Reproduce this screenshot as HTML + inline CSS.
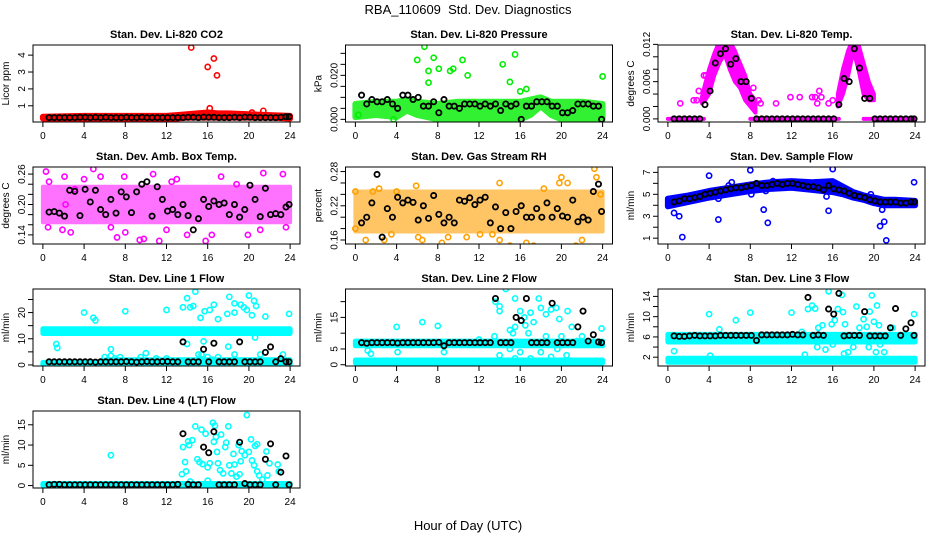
<!DOCTYPE html>
<html><head><meta charset="utf-8">
<style>
html,body{margin:0;padding:0;background:#fff;}
svg{display:block;font-family:"Liberation Sans",Arial,sans-serif;}
</style></head>
<body>
<svg id="chart" width="936" height="540" viewBox="0 0 936 540">
<text x="468" y="14" text-anchor="middle" font-size="13">RBA_110609&#160; Std. Dev. Diagnostics</text>
<text x="468" y="530" text-anchor="middle" font-size="13">Hour of Day (UTC)</text>
</svg>
<script>
const blackHours=[0.6,1.1,1.6,2.1,2.6,3.1,3.6,4.1,4.6,5.1,5.6,6.1,6.6,7.1,7.6,8.1,8.6,9.1,9.6,10.1,10.6,11.1,11.6,12.1,12.6,13.1,13.6,14.1,14.6,15.1,15.6,16.1,16.6,17.1,17.6,18.1,18.6,19.1,19.6,20.1,20.6,21.1,21.6,22.1,22.6,23.1,23.6,23.9];
const xTicks=[0,4,8,12,16,20,24];

// CO2
const co2BandH=[0,4,8,12,13,14,15,16,17,18,20,22,24];
const co2BandLo=[0.25,0.25,0.25,0.25,0.25,0.3,0.3,0.3,0.3,0.3,0.3,0.3,0.25];
const co2BandHi=[0.35,0.4,0.4,0.4,0.45,0.5,0.55,0.6,0.55,0.55,0.5,0.45,0.4];
const co2PtsH=[14.4,16.0,16.6,16.9,16.2,21.4,20.3];
const co2PtsV=[4.45,3.3,3.8,2.8,0.85,0.7,0.6];
const co2Black=[0.3,0.3,0.3,0.3,0.3,0.3,0.32,0.32,0.3,0.32,0.3,0.32,0.3,0.3,0.3,0.32,0.3,0.3,0.32,0.3,0.3,0.3,0.3,0.3,0.3,0.3,0.3,0.32,0.32,0.3,0.33,0.32,0.32,0.3,0.3,0.3,0.32,0.3,0.33,0.32,0.3,0.3,0.3,0.3,0.3,0.32,0.35,0.35];

// Pressure
const prBandH=[0,2,4,5,6,8,10,12,14,16,17,18,19,20,22,24];
const prBandLo=[0.001,0.002,0.001,0.004,0.002,0,0,0,0,0,0.002,0.006,0.002,0,0,0];
const prBandHi=[0.007,0.008,0.008,0.009,0.008,0.007,0.008,0.008,0.008,0.008,0.009,0.010,0.008,0.008,0.008,0.007];
const prPtsH=[6.7,6.0,7.1,7.6,7.1,8.1,9.2,9.5,10.4,10.9,14.3,15.5,15.0,16.0,16.6,24.0,0.3,3.7];
const prPtsV=[0.033,0.027,0.022,0.028,0.0167,0.023,0.022,0.023,0.027,0.020,0.025,0.0295,0.017,0.0127,0.0138,0.0195,0.002,0.0];
const prBlack=[0.011,0.007,0.009,0.008,0.008,0.009,0.007,0.005,0.011,0.011,0.009,0.010,0.006,0.006,0.008,0.003,0.009,0.006,0.006,0.005,0.007,0.007,0.007,0.006,0.007,0.006,0.007,0.004,0.007,0.006,0.007,0.000,0.006,0.006,0.008,0.008,0.008,0.006,0.006,0.003,0.003,0.004,0.007,0.007,0.007,0.006,0.006,0.000];

// Li-820 temp
const tpBandH=[0,3.5,null,3.3,3.6,4,4.5,5,5.5,6,6.5,7,7.5,8,8.5,null,8,16.6,null,16.5,17,17.5,18,18.5,19,19.5,20,null,19,24];
const tpBandLo=[0,0,null,0.0025,0.003,0.004,0.007,0.009,0.0105,0.008,0.006,0.005,0.003,0.002,0.001,null,0,0,null,0.002,0.004,0.007,0.011,0.008,0.004,0.003,0.003,null,0,0];
const tpBandHi=[0,0,null,0.0035,0.0055,0.008,0.0105,0.0125,0.013,0.0125,0.011,0.009,0.007,0.004,0.003,null,0,0,null,0.004,0.008,0.011,0.013,0.012,0.009,0.006,0.004,null,0,0];
const tpPtsH=[1.2,2.5,2.8,3.0,9.0,10.5,11.9,12.8,14.0,14.3,14.5,14.7,14.9,15.6,16.0,3.5,3.7,8.3,8.8];
const tpPtsV=[0.0025,0.003,0.003,0.0045,0.0025,0.0025,0.0035,0.0035,0.0035,0.0035,0.0025,0.0045,0.0035,0.0025,0.003,0.007,0.007,0.005,0.003];
const tpBlack=[0,0,0,0,0,0,0.0023,0.0045,0.009,0.0105,0.0113,0.0088,0.0097,0.006,0.006,0.0033,0,0,0,0,0,0,0,0,0,0,0,0,0,0,0,0,0.0023,0.0065,0.006,0.0113,0.0082,0.0033,0.0033,0,0,0,0,0,0,0,0,0];

// Amb box temp
const abBandH=[0,24];
const abBandLo=[0.165,0.165];
const abBandHi=[0.235,0.235];
const abPtsH=[0.3,0.6,0.5,1.9,2.1,2.7,3.1,4,4.9,5.6,7.2,7.9,8,9.4,9.8,10.7,11.3,12,14,15.8,16.4,17.3,18.8,21.4,21.1,23.3,23.6,13,12.5,6.6,2.2,19.9];
const abPtsV=[0.265,0.245,0.155,0.15,0.255,0.145,0.23,0.25,0.27,0.255,0.135,0.255,0.145,0.13,0.132,0.26,0.128,0.15,0.14,0.128,0.14,0.255,0.24,0.262,0.15,0.26,0.155,0.25,0.245,0.155,0.2,0.14];
const abBlack=[0.185,0.186,0.183,0.177,0.228,0.226,0.178,0.23,0.205,0.228,0.19,0.18,0.21,0.183,0.225,0.215,0.184,0.225,0.24,0.245,0.177,0.235,0.21,0.187,0.19,0.18,0.2,0.178,0.15,0.172,0.21,0.196,0.207,0.2,0.203,0.18,0.2,0.175,0.19,0.238,0.21,0.176,0.232,0.18,0.182,0.18,0.195,0.2];

// RH
const rhBandH=[0,24];
const rhBandLo=[0.175,0.175];
const rhBandHi=[0.245,0.245];
const rhPtsH=[0,0,1,1.7,2.3,2.8,4,3.5,5.4,5.9,6.1,6.5,8.4,9,10.8,12.1,13.3,14,15,16.6,17.3,18.3,19.8,21.4,22,22.8,23.2,23.4,23.8,20,20.6,14];
const rhPtsV=[0.18,0.245,0.16,0.245,0.25,0.16,0.245,0.17,0.14,0.255,0.165,0.16,0.155,0.165,0.165,0.17,0.17,0.16,0.15,0.155,0.15,0.25,0.26,0.15,0.16,0.145,0.285,0.27,0.24,0.27,0.26,0.26];
const rhBlack=[0.19,0.2,0.225,0.275,0.165,0.215,0.2,0.235,0.225,0.23,0.226,0.195,0.22,0.198,0.238,0.205,0.19,0.2,0.19,0.23,0.228,0.234,0.222,0.23,0.235,0.19,0.218,0.18,0.208,0.18,0.21,0.22,0.2,0.2,0.215,0.2,0.225,0.2,0.215,0.202,0.2,0.23,0.192,0.2,0.195,0.245,0.258,0.21];

// Sample flow
const sfBandH=[0,2,4,6,8,10,12,14,16,17,18,19,20,21,22,24];
const sfBandLo=[3.9,4.3,4.7,5.0,5.3,5.5,5.6,5.4,5.2,5.0,4.7,4.5,4.2,4.0,4.0,4.0];
const sfBandHi=[4.6,4.9,5.3,5.6,5.9,6.1,6.2,6.1,6.2,5.7,5.2,4.9,4.7,4.5,4.5,4.4];
const sfPtsH=[0.6,1.1,1.4,4,4.9,8,8.1,9.3,9.7,15.6,15.4,16,20.6,20.8,21,21.2,23.9,4.9,6.2,10.2,14.4,5.9,9.5,7.7,19.7];
const sfPtsV=[3.3,3.0,1.1,6.7,2.7,7.2,5.0,3.6,2.4,3.5,4.8,7.3,2.1,3.6,2.5,0.8,6.1,4.6,6.1,6.2,6.1,5.8,5.3,5.3,5.0];
const sfBlack=[4.3,4.4,4.6,4.6,4.7,4.8,5.0,5.1,5.2,5.3,5.4,5.5,5.6,5.6,5.7,5.8,6.0,5.8,5.8,5.9,6.0,5.9,6.0,6.0,5.9,5.8,5.7,5.7,5.6,5.4,5.8,5.5,5.4,5.3,5.1,4.9,4.8,4.7,4.5,4.4,4.3,4.3,4.3,4.3,4.2,4.2,4.3,4.3];

// Line 1
const l1BandH=[0,24,null,0,6,6.1,24];
const l1BandLo=[12,12,null,0,0,0,0];
const l1BandHi=[13.8,13.8,null,1,1,2,2];
const l1PtsH=[4,4.9,5.1,8,12,13.6,14,14.3,14.6,14.8,15.3,15.7,16.2,16.6,17,17.9,18.1,18.6,18.6,19.2,19.5,19.8,20,20.3,20.5,20.7,21.6,23.9,1.3,1.4,6.6,14,16.6,18,18.6,20.6,21.1,23.3,15.6,15.1,15.4,10,9.5,6,6.6,7,7.5,11,12,16,16.5,17];
const l1PtsV=[20,18,17,20.5,21,22,25.5,22,22.5,28,18,20.5,21,23,17.5,19.5,26,20,23.5,23,22,21,26.5,19,24.5,22.5,18.5,19.5,8,6.5,6,8,8.3,7,4,10.5,4,4,9,4,4,4.5,3,3,3.5,2.5,3,2.5,2.5,3,2,3];
const l1Black=[1.2,1.2,1.2,1.2,1.2,1.2,1.2,1.2,1.2,1.1,1.2,1.2,1.2,1.2,1.2,1.3,1.2,1.1,1.2,1.3,1.2,1.2,1.3,1.3,1.2,1.2,8.8,1.2,1.2,1.2,6.0,1.2,8.3,1.2,1.2,1.2,1.2,8.8,1.2,1.2,1.2,1.2,4.8,6.9,1.2,2.4,1.2,1.2];

// Line 2
const l2BandH=[0,24,null,0,24];
const l2BandLo=[6,6,null,0.5,0.5];
const l2BandHi=[7.5,7.5,null,1.5,1.5];
const l2PtsH=[4,6.5,8,1.2,1.5,4.1,8.6,12,13.6,14,14,14.6,15.5,15,15.3,16,16.4,16.5,17,17.3,17.8,18,18.5,19,19.5,19.8,20,20.6,21.5,22,23,23.9,14,15,15.5,16,17,18,19,20.5,13.5,16.8,18.5,21,19.6,15.5,17.5];
const l2PtsV=[12,13.5,12.3,4.5,3.5,4,4,8,20,18.5,17,24,21,11,10,17,15,12.5,16.5,13.5,21,18,16,17.5,18,14.5,9,17,7.5,9,7,11.5,3,5,2,4,2,4,2.5,3,9,10,9,12,5,12,6.5];
const l2Black=[7,6.8,7,7,7,7,7,6.9,7,7,7,7,7,7,7,7.1,6,7,7,7,7,7,7,7,7,7,21,7,7,7,15,14,21,7,7,7,7,19.5,7,7,7,7,12,17,7.5,9.5,7.2,7];

// Line 3
const l3BandH=[0,24,null,0,24];
const l3BandLo=[5,5,null,1,1];
const l3BandHi=[6.5,6.5,null,1.8,1.8];
const l3PtsH=[0.6,4,4.1,5,6.6,8,12,13,13.3,13.6,14,14.3,14.6,15,15.3,15.6,15.9,16.2,16.5,16.9,17,17.2,17.5,18,18.3,18.6,19,19.3,19.6,19.8,20,20.3,20.6,20.5,21,21.8,22.5,23.9,14.5,16,17.1,19.5,20.2];
const l3PtsV=[3.2,10.5,2.3,7.5,9.3,10.8,10.8,7,2.5,11.5,12.2,11.6,7.8,8.3,3.5,15,8.5,9.3,11.5,14.3,10.9,8.5,3,4,12,7.8,9.5,8,11,14.2,9,12.2,4.5,8.3,3,7.8,1.6,10.5,4,4.5,2.7,4,3];
const l3Black=[6.2,6.1,6.1,6.2,6.3,6.2,6.2,6.2,6.2,6.3,6.3,6.3,6.3,6.3,6.3,6.3,5.3,6.4,6.4,6.4,6.4,6.4,6.4,6.5,6.4,6.4,13.8,6.3,6.4,6.3,11.5,10.5,14.6,6.2,6.3,6.3,6.3,11,6.2,6.2,6.2,6.2,7.8,11.6,6.3,7.6,8.8,6.3];

// Line 4
const l4BandH=[0,24];
const l4BandLo=[0,0];
const l4BandHi=[0.5,0.5];
const l4PtsH=[6.6,13.5,13.6,13.8,13.9,14.1,14.2,14.5,14.8,15,15.2,15.4,15.5,15.8,16,16.2,16.5,16.6,16.7,16.8,16.9,17,17.2,17.5,17.7,17.8,18,18.1,18.3,18.5,18.6,18.8,19,19.2,19.3,19.6,19.8,20,20.2,20.3,20.5,20.6,20.8,21,21.3,21.7,21.8,22,22.8,22.9,20.8,17.3,19.1,14.3,16];
const l4PtsV=[7.5,2.8,9.5,5.8,3.5,10.9,10,11.2,14.6,6.5,5.8,13.8,5.3,12.8,4.5,5.5,15.5,10.8,14.8,12,8.3,5.5,3.8,3,9.5,10.6,14.6,5,3,7.8,5.2,2.2,10,6,8.5,7.5,17.4,8.3,11.4,6.2,5,9.8,3.5,2.5,1.5,8.4,2.5,5.5,5.2,3.5,10.2,12.6,2.8,1,1.2];
const l4Black=[0.2,0.3,0.3,0.2,0.2,0.2,0.2,0.2,0.2,0.2,0.2,0.2,0.2,0.2,0.2,0.2,0.2,0.2,0.2,0.2,0.2,0.2,0.2,0.2,0.2,0.3,12.8,0.3,0.2,0.2,9.5,8.1,13.3,0.2,0.2,0.2,0.2,10.7,0.5,0.2,0.2,0.2,6.5,10.3,0.2,3.3,7.3,0.2];

const NS='http://www.w3.org/2000/svg';
const svg=document.getElementById('chart');
function mk(tag,attrs,parent){const e=document.createElementNS(NS,tag);for(const k in attrs)e.setAttribute(k,attrs[k]);(parent||svg).appendChild(e);return e;}

const panels=[
 {key:'co2',title:'Stan. Dev. Li-820 CO2',ylab:'Licor ppm',col:0,row:0,ymin:0.04,ymax:4.6,ticks:[1,2,3,4],labels:['1','2','3','4'],color:'#ff0000',op:1,sw:6,bh:co2BandH,blo:co2BandLo,bhi:co2BandHi,ph:co2PtsH,pv:co2PtsV,bk:co2Black},
 {key:'pressure',title:'Stan. Dev. Li-820 Pressure',ylab:'kPa',col:1,row:0,ymin:-0.0012,ymax:0.0338,ticks:[0,0.005,0.01,0.015,0.02,0.025,0.03],labels:['0.000','','','','0.020','',''],color:'#00ee00',op:0.8,sw:6,bh:prBandH,blo:prBandLo,bhi:prBandHi,ph:prPtsH,pv:prPtsV,bk:prBlack},
 {key:'li820-temp',title:'Stan. Dev. Li-820 Temp.',ylab:'degrees C',col:2,row:0,ymin:-0.0005,ymax:0.0119,ticks:[0,0.002,0.004,0.006,0.008,0.01,0.012],labels:['0.000','','','0.006','','','0.012'],color:'#ff00ff',op:1,sw:4,bh:tpBandH,blo:tpBandLo,bhi:tpBandHi,ph:tpPtsH,pv:tpPtsV,bk:tpBlack},
 {key:'amb-box-temp',title:'Stan. Dev. Amb. Box Temp.',ylab:'degrees C',col:0,row:1,ymin:0.122,ymax:0.274,ticks:[0.14,0.16,0.18,0.2,0.22,0.24,0.26],labels:['0.14','','','0.20','','','0.26'],color:'#ff00ff',op:0.55,sw:4,bh:abBandH,blo:abBandLo,bhi:abBandHi,ph:abPtsH,pv:abPtsV,bk:abBlack},
 {key:'gas-rh',title:'Stan. Dev. Gas Stream RH',ylab:'percent',col:1,row:1,ymin:0.153,ymax:0.288,ticks:[0.16,0.18,0.2,0.22,0.24,0.26,0.28],labels:['0.16','','','0.22','','','0.28'],color:'#ffa000',op:0.6,sw:4,bh:rhBandH,blo:rhBandLo,bhi:rhBandHi,ph:rhPtsH,pv:rhPtsV,bk:rhBlack},
 {key:'sample-flow',title:'Stan. Dev. Sample Flow',ylab:'ml/min',col:2,row:1,ymin:0.47,ymax:7.49,ticks:[1,2,3,4,5,6,7],labels:['1','','3','','5','','7'],color:'#0000ff',op:1,sw:6,bh:sfBandH,blo:sfBandLo,bhi:sfBandHi,ph:sfPtsH,pv:sfPtsV,bk:sfBlack},
 {key:'line1-flow',title:'Stan. Dev. Line 1 Flow',ylab:'ml/min',col:0,row:2,ymin:-0.4,ymax:29,ticks:[0,5,10,15,20,25],labels:['0','','10','','20',''],color:'#00ffff',op:1,sw:5,bh:l1BandH,blo:l1BandLo,bhi:l1BandHi,ph:l1PtsH,pv:l1PtsV,bk:l1Black},
 {key:'line2-flow',title:'Stan. Dev. Line 2 Flow',ylab:'ml/min',col:1,row:2,ymin:-0.4,ymax:24,ticks:[0,5,10,15,20],labels:['0','5','','15',''],color:'#00ffff',op:1,sw:5,bh:l2BandH,blo:l2BandLo,bhi:l2BandHi,ph:l2PtsH,pv:l2PtsV,bk:l2Black},
 {key:'line3-flow',title:'Stan. Dev. Line 3 Flow',ylab:'ml/min',col:2,row:2,ymin:0.26,ymax:15.46,ticks:[2,4,6,8,10,12,14],labels:['2','','6','','10','','14'],color:'#00ffff',op:1,sw:5,bh:l3BandH,blo:l3BandLo,bhi:l3BandHi,ph:l3PtsH,pv:l3PtsV,bk:l3Black},
 {key:'line4-flow',title:'Stan. Dev. Line 4 (LT) Flow',ylab:'ml/min',col:0,row:3,ymin:-0.6,ymax:18.4,ticks:[0,5,10,15],labels:['0','5','10','15'],color:'#00ffff',op:1,sw:5,bh:l4BandH,blo:l4BandLo,bhi:l4BandHi,ph:l4PtsH,pv:l4PtsV,bk:l4Black}
];

panels.forEach(p=>{
  const bx=33+p.col*312.5, by=45+p.row*122, bw=267, bhgt=77;
  const xs=h=>bx+bw*(h+0.96)/25.92;
  const ys=v=>by+bhgt*(p.ymax-v)/(p.ymax-p.ymin);
  const g=mk('g',{});
  
  
  const clipId='clip-'+p.key;
  const cp=mk('clipPath',{id:clipId},g);
  mk('rect',{x:bx,y:by,width:bw,height:bhgt},cp);
  const t=mk('text',{x:bx+bw/2,y:by-7,'text-anchor':'middle','font-size':'11','font-weight':'bold'},g);
  t.textContent=p.title;
  
  
  const yl=mk('text',{x:0,y:0,'text-anchor':'middle','font-size':'10',transform:`translate(${bx-24},${by+bhgt/2}) rotate(-90)`},g);
  yl.textContent=p.ylab;
  
  
  const plot=mk('g',{'clip-path':`url(#${clipId})`},g);
  let segs=[],cur=[];
  p.bh.forEach((h,i)=>{if(h===null){segs.push(cur);cur=[];}else cur.push(i);});
  segs.push(cur);
  segs.forEach((s,si)=>{
    const top=s.map(i=>xs(p.bh[i])+','+ys(p.bhi[i]));
    const bot=s.slice().reverse().map(i=>xs(p.bh[i])+','+ys(p.blo[i]));
    const poly=mk('polygon',{points:top.concat(bot).join(' '),fill:p.color,stroke:p.color,'stroke-width':p.sw,'stroke-linejoin':'round',opacity:p.op},plot);
    
    
  });
  p.ph.forEach((h,i)=>{
    const c=mk('circle',{cx:xs(h),cy:ys(p.pv[i]),r:2.6,fill:'none',stroke:p.color,'stroke-width':'1.6'},plot);
    
    
  });
  blackHours.forEach((h,i)=>{
    const v=p.bk[i]; if(v===null||v===undefined) return;
    const c=mk('circle',{cx:xs(h),cy:ys(v),r:2.6,fill:'none',stroke:'#000','stroke-width':'1.8'},plot);
    
    
  });
  const box=mk('rect',{x:bx,y:by,width:bw,height:bhgt,fill:'none',stroke:'#000','stroke-width':'1'},g);
  
  
  xTicks.forEach(h=>{
    const x=xs(h);
    mk('line',{x1:x,x2:x,y1:by+bhgt,y2:by+bhgt+5,stroke:'#000'},g);
    const tl=mk('text',{x:x,y:by+bhgt+17,'text-anchor':'middle','font-size':'10'},g);
    tl.textContent=h;
    
    
  });
  p.ticks.forEach((v,i)=>{
    const y=ys(v);
    mk('line',{x1:bx-5,x2:bx,y1:y,y2:y,stroke:'#000'},g);
    if(p.labels[i]){
      const tl=mk('text',{x:0,y:0,'text-anchor':'middle','font-size':'10',transform:`translate(${bx-8},${y}) rotate(-90)`},g);
      tl.textContent=p.labels[i];
      
      
    }
  });
});
</script>
</body></html>
